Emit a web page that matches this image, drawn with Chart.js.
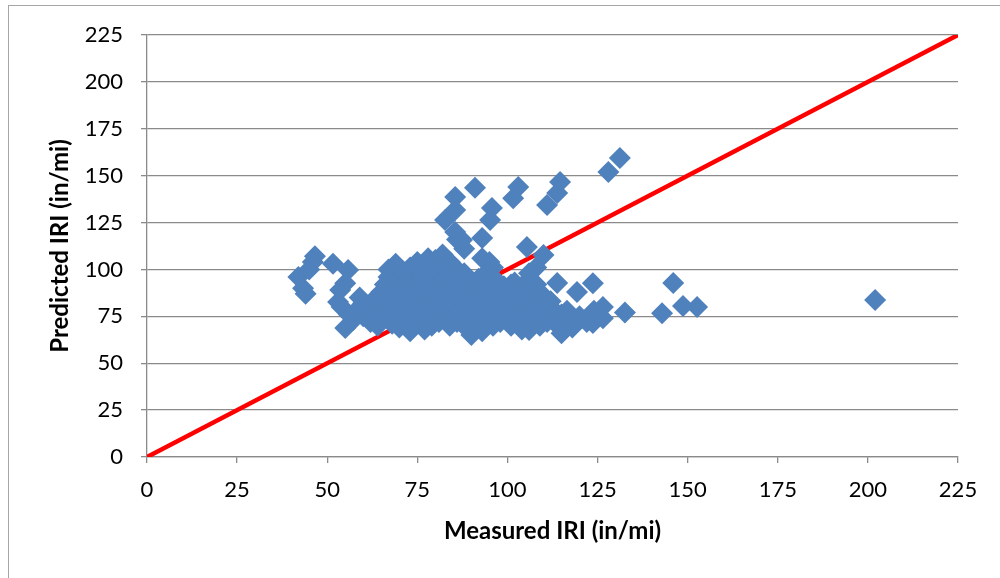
<!DOCTYPE html>
<html>
<head>
<meta charset="utf-8">
<script src="https://cdn.jsdelivr.net/npm/chart.js@4/dist/chart.umd.min.js"></script>
<style>
    html, body { margin: 0; padding: 0; background: #fff; }
    #wrap { position: relative; width: 1000px; height: 578px; overflow: hidden; }
    #marco { position: absolute; left: 8px; top: 5px; width: 1200px; height: 1200px; border: 1px solid #a6a6a6; }
    canvas { position: absolute; left: 0; top: 0; }
</style>
</head>
<body>
<div id="wrap">
    <div id="marco"></div>
    <canvas id="grafico" width="1000" height="578"></canvas>
</div>
<script>
const medidoIRI = [
    42, 43.3, 44, 45, 46, 46.6, 51.6, 55.8, 55, 53.6, 53, 54, 55, 57.2, 59, 56,
    58, 60, 60, 61, 62, 62, 63, 64, 64, 65, 65, 66, 66,
    67, 67, 67, 68, 68, 69, 69, 69, 70, 70, 70, 70, 71, 71, 72, 72, 72,
    73, 73, 73, 73, 74, 74, 74, 74, 75, 75, 75, 76, 76, 76, 76, 77, 77, 77, 77, 78, 78, 78, 78,
    79, 79, 79, 79, 80, 80, 80, 80, 80, 81, 81, 81, 81, 82, 82, 82, 82, 83, 83, 83, 83, 84, 84, 84, 84,
    85, 85, 85, 85, 86, 86, 86, 87, 87, 87, 88, 88, 88, 88, 89, 89, 90, 90, 90,
    91, 91, 91, 92, 92, 92, 93, 93, 93, 94, 94, 94, 94, 95, 95, 96, 96, 96, 96, 97, 97, 97,
    98, 98, 98, 99, 99, 100, 100, 100, 101, 101, 102, 102, 102, 103, 103, 103, 104, 104, 104,
    105, 105, 106, 106, 106, 106, 107, 107, 108, 108, 108, 109, 109, 110, 110, 111, 112, 112, 112,
    113.8, 114, 115, 115, 116.5, 117, 118, 119.3, 120, 122, 123.7, 123.7, 124, 126.5, 126.5, 132.6,
    142.9, 146, 148.7, 152.6, 202,
    82.7, 85.5, 85.5, 85.5, 86, 88, 91, 93, 95.7, 95.2, 103, 101.6, 114.6, 113.8, 111, 131.2, 128, 105.4, 110, 87.4
];
const predichoIRI = [
    96, 90, 87, 100, 104, 107, 103, 99.7, 92.7, 89, 82.6, 80, 68.8, 73, 85, 76,
    78, 82, 75, 80, 72, 77, 84, 70, 79, 74, 88, 82, 92,
    76, 96, 100, 71, 86, 79, 90, 103, 69, 74, 83, 95, 88, 99, 72, 78, 92,
    67, 82, 86, 101, 70, 75, 90, 96, 79, 85, 104, 72, 88, 94, 99, 68, 77, 82, 102, 74, 86, 91, 106,
    70, 79, 84, 97, 75, 89, 93, 101, 105, 72, 81, 86, 98, 77, 90, 95, 108, 73, 83, 88, 100, 70, 79, 93, 104,
    75, 85, 90, 97, 72, 80, 100, 78, 88, 94, 70, 83, 91, 98, 75, 86, 65, 80, 93,
    70, 84, 89, 76, 81, 95, 67, 87, 106, 73, 79, 91, 98, 84, 104, 70, 77, 89, 101, 81, 86, 94,
    72, 78, 90, 84, 91, 75, 80, 88, 92, 70, 77, 84, 93, 73, 81, 89, 68, 86, 91,
    76, 81, 67.7, 72, 88, 98, 79, 84, 74, 92, 101, 70, 80, 77, 86, 72, 80, 75, 83,
    92.8, 70, 66, 76, 78, 72, 69, 88, 75, 72, 92.7, 71.4, 78, 80, 74, 77,
    76.7, 92.8, 80.5, 80, 83.7,
    126.3, 138.6, 131.7, 120, 116, 111, 143.5, 116.7, 132.7, 126.3, 144, 138, 146.6, 140.7, 134.3, 159.4, 152, 112, 107.7, 115.7
];

// Linea de igualdad (y = x)
const lineaX = [0, 225];
const lineaY = [0, 225];

// Ejes
const ejeMin = 0;
const ejeMax = 225;
const ejePaso = 25;

const puntos = medidoIRI.map((x, i) => ({ x: x, y: predichoIRI[i] }));
const linea = lineaX.map((x, i) => ({ x: x, y: lineaY[i] }));

const colorGrilla = '#8a8a8a';
const fuenteTicks = { family: 'Lato', size: 22 };
const fuenteTitulo = { family: 'Lato', size: 24, weight: 'bold' };

const ctx = document.getElementById('grafico').getContext('2d');
new Chart(ctx, {
    type: 'scatter',
    data: {
        datasets: [
            {
                label: 'IRI',
                data: puntos,
                backgroundColor: '#4F81BD',
                borderColor: '#4F81BD',
                borderWidth: 0,
                pointStyle: 'rectRot',
                pointRadius: 11,
                order: 1
            },
            {
                type: 'line',
                label: 'Igualdad',
                data: linea,
                borderColor: '#FF0000',
                borderWidth: 4.5,
                pointRadius: 0,
                fill: false,
                order: 2
            }
        ]
    },
    options: {
        responsive: false,
        animation: false,
        layout: { padding: { left: 0, top: 35, right: 42, bottom: 0 } },
        plugins: {
            legend: { display: false },
            tooltip: { enabled: false }
        },
        scales: {
            x: {
                type: 'linear',
                min: ejeMin,
                max: ejeMax,
                afterFit: s => { s.height = 121; },
                ticks: { stepSize: ejePaso, color: '#000', font: fuenteTicks, padding: 14, maxRotation: 0 },
                grid: { drawOnChartArea: false, drawTicks: true, tickLength: 6, color: colorGrilla, lineWidth: 1.3 },
                border: { display: true, color: colorGrilla, width: 1.3 },
                title: {
                    display: true,
                    text: 'Measured IRI (in/mi)',
                    color: '#000',
                    font: fuenteTitulo,
                    padding: { top: 0, bottom: 32 }
                }
            },
            y: {
                type: 'linear',
                min: ejeMin,
                max: ejeMax,
                afterFit: s => { s.width = 147; },
                ticks: { stepSize: ejePaso, color: '#000', font: fuenteTicks, padding: 18 },
                grid: { drawTicks: true, tickLength: 6, color: colorGrilla, lineWidth: 1.3 },
                border: { display: true, color: colorGrilla, width: 1.3 },
                title: {
                    display: true,
                    text: 'Predicted IRI (in/mi)',
                    color: '#000',
                    font: fuenteTitulo,
                    padding: { top: 46, bottom: 0 }
                }
            }
        }
    }
});
</script>
</body>
</html>
